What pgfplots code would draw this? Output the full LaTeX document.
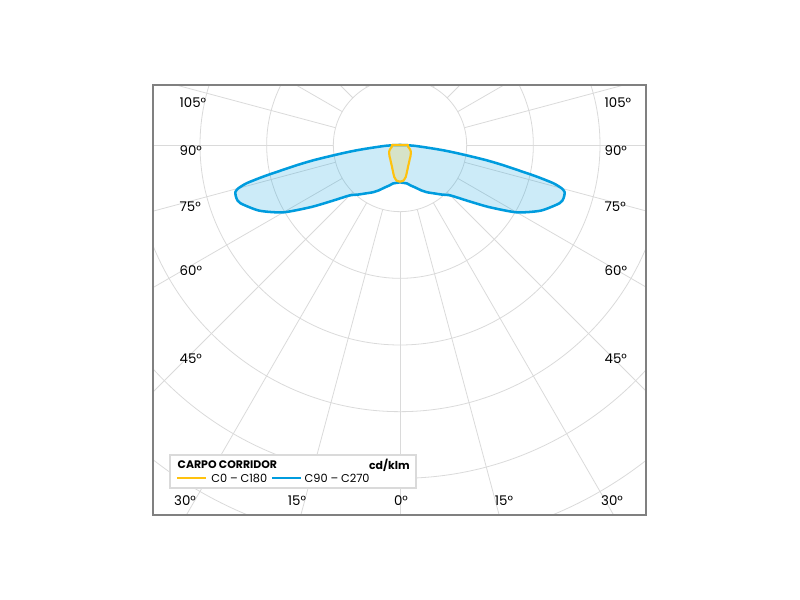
\documentclass[border=0pt]{standalone}
\usepackage{fontspec}
\setmainfont{Poppins}
\usepackage{pgfplots}
\usepgfplotslibrary{polar}
\pgfplotsset{compat=1.18}
\usepackage{pgfplotstable}

\definecolor{cblue}{RGB}{0,156,222}
\definecolor{cyellow}{RGB}{255,194,14}
\definecolor{gridgray}{RGB}{218,218,218}
\definecolor{framegray}{RGB}{128,128,128}
\definecolor{txt}{RGB}{35,35,35}

% polar angle t (deg, from +x axis), r in cd/klm
\pgfplotstableread{
t r
-180 0
-179 6
-178 12
-177 20
-176 27
-175 35
-174 48
-173 66
-172 84
-171 105
-170 132
-169 156
-168 180
-167 210
-166 237
-165 251
-164 257
-162 258
-160 255
-155 233
-150 202
-145 162
-140 129
-135 107
-130 97
-125 88.5
-120 82
-115 75
-110 68
-105 63
-100 58.5
-95 57
-90 56
-85 57
-80 58.5
-75 63
-70 68
-65 75
-60 82
-55 88.5
-50 97
-45 107
-40 129
-35 162
-30 202
-25 233
-20 255
-18 258
-16 257
-15 251
-14 237
-13 210
-12 180
-11 156
-10 132
-9 105
-8 84
-7 66
-6 48
-5 35
-4 27
-3 20
-2 12
-1 6
0 0
}\cninety

\pgfplotstableread{
t r
-180 12
-175 12
-170 12.5
-165 13
-160 15
-155 17
-150 18.5
-145 20
-140 21
-135 22.5
-130 24
-125 25.5
-120 28
-115 31
-110 35
-105 41
-100 49
-95 54
-90 55
-85 54
-80 49
-75 41
-70 35
-65 31
-60 28
-55 25.5
-50 24
-45 22.5
-40 21
-35 20
-30 18.5
-25 17
-20 15
-15 13
-10 12.5
-5 12
0 12
}\czero

\begin{document}
\begin{tikzpicture}
\begin{axis}[
    x=0.5pt, y=0.5pt,
    xmin=-370.5, xmax=369,
    ymin=-555, ymax=90,
    xtick=\empty, ytick=\empty,
    axis line style={framegray, line width=0.8pt},
    axis on top,
    clip=true,
    every node/.append style={text=txt, inner sep=0pt, font=\fontsize{7.5}{9}\selectfont},
]
% grid: rings every 100 cd/klm, spokes every 15 deg
\pgfplotsinvokeforeach{1,...,9}{
  \draw[gridgray, line width=0.6pt] (axis cs:0,0) circle[radius=#1*50pt];
}
\pgfplotsinvokeforeach{0,15,...,345}{
  \draw[gridgray, line width=0.6pt] ([shift={(axis cs:0,0)}]#1:50pt) -- ([shift={(axis cs:0,0)}]#1:600pt);
}

\addplot[cblue, line width=1.9pt, line join=round, fill=cblue, fill opacity=0.2,
  data cs=polar, smooth, tension=0.4] table[x=t, y=r] {\cninety} -- cycle;
\addplot[cyellow, line width=1.6pt, line join=round, fill=cyellow, fill opacity=0.2,
  data cs=polar, smooth, tension=0.4] table[x=t, y=r] {\czero} -- cycle;

% angle labels
\node[anchor=west] at (axis cs:-337.5,63) {105°};
\node[anchor=west] at (axis cs:-337.5,-9) {90°};
\node[anchor=west] at (axis cs:-337.5,-93) {75°};
\node[anchor=west] at (axis cs:-337.5,-189) {60°};
\node[anchor=west] at (axis cs:-337.5,-321) {45°};
\node[anchor=west] at (axis cs:300,63) {105°};
\node[anchor=west] at (axis cs:300,-9) {90°};
\node[anchor=west] at (axis cs:300,-93) {75°};
\node[anchor=west] at (axis cs:300,-189) {60°};
\node[anchor=west] at (axis cs:300,-321) {45°};
\node at (axis cs:-322.5,-534) {30°};
\node at (axis cs:-154.5,-534) {15°};
\node at (axis cs:1.5,-534) {0°};
\node at (axis cs:156,-534) {15°};
\node at (axis cs:318,-534) {30°};

% legend
\draw[gridgray, line width=0.8pt, fill=white] (axis cs:-345,-465) rectangle (axis cs:24,-514.5);
\node[anchor=west, font=\fontsize{8.2}{10}\selectfont\bfseries] at (axis cs:-340.5,-480) {CARPO CORRIDOR};
\node[anchor=east, font=\fontsize{8.2}{10}\selectfont\bfseries] at (axis cs:21.5,-480) {cd/klm};
\draw[cyellow, line width=1.5pt] (axis cs:-334.5,-499.5) -- (axis cs:-291,-499.5);
\node[anchor=west, font=\fontsize{8.5}{10}\selectfont] at (axis cs:-290,-499.5) {C0\hspace{0.25em}–\hspace{0.25em}C180};
\draw[cblue, line width=1.5pt] (axis cs:-192,-499.5) -- (axis cs:-148.5,-499.5);
\node[anchor=west, font=\fontsize{8.5}{10}\selectfont] at (axis cs:-150,-499.5) {C90\hspace{0.25em}–\hspace{0.25em}C270};
\end{axis}
\path ([shift={(-114.75pt,-63.75pt)}]current axis.south west) rectangle ([shift={(115.5pt,63.75pt)}]current axis.north east);
\end{tikzpicture}
\end{document}
